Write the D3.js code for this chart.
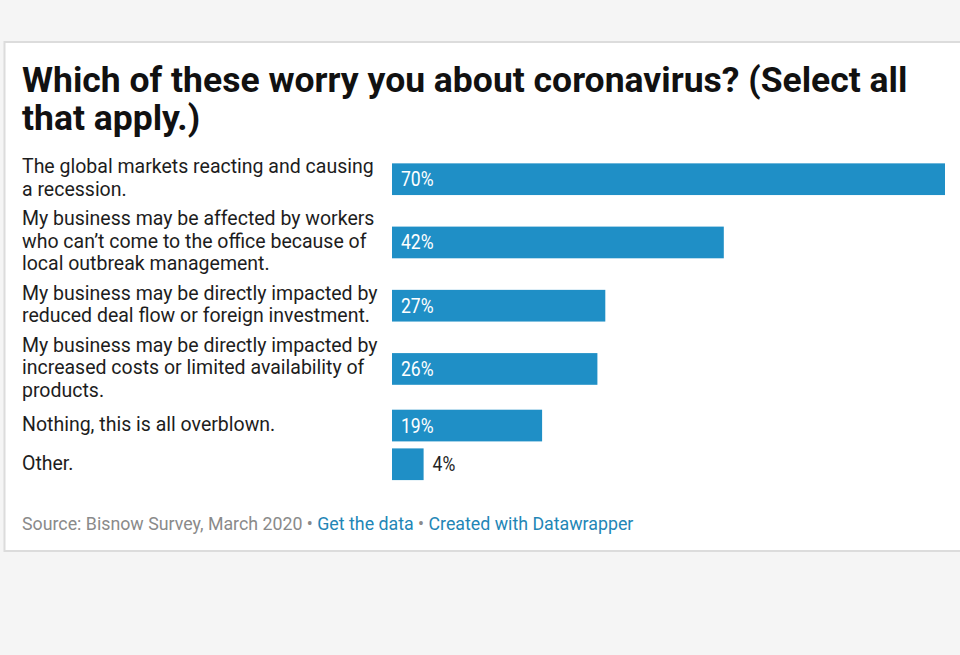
<!DOCTYPE html>
<html>
<head>
<meta charset="utf-8">
<script src="https://cdn.jsdelivr.net/npm/d3@7"></script>
<style>
  html, body { margin: 0; padding: 0; background: #f5f5f5; }
  svg { display: block; font-family: Roboto, "Noto Sans", sans-serif; }
</style>
</head>
<body>
<svg id="chart" width="960" height="655"></svg>
<script>
// Survey answers, one entry per bar (label lines as they wrap in the chart)
const labels = [
    ["The global markets reacting and causing", "a recession."],
    ["My business may be affected by workers", "who can\u2019t come to the office because of", "local outbreak management."],
    ["My business may be directly impacted by", "reduced deal flow or foreign investment."],
    ["My business may be directly impacted by", "increased costs or limited availability of", "products."],
    ["Nothing, this is all overblown."],
    ["Other."]
];
const values = [70, 42, 27, 26, 19, 4];
const titleLines = ["Which of these worry you about coronavirus? (Select all", "that apply.)"];
const sourceText = "Source: Bisnow Survey, March 2020";
const linkTexts = ["Get the data", "Created with Datawrapper"];

const barColor = "#1f8fc6";
const lineH = 22.5;
const barH = 31.7;
const rowGap = 7;

const svg = d3.select("#chart");

// card
svg.append("rect")
    .attr("x", 4.5).attr("y", 42)
    .attr("width", 1000).attr("height", 509)
    .attr("fill", "#fff")
    .attr("stroke", "#dcdcdc")
    .attr("stroke-width", 2);

// sx: horizontal squeeze, the screenshot text is a little narrower than the font
function addText(x, y, str, size, weight, fill, sx) {
    return svg.append("text")
        .attr("transform", `translate(${x},${y}) scale(${sx},1)`)
        .style("font-size", size + "px")
        .style("font-weight", weight)
        .attr("fill", fill)
        .text(str);
}

// title
titleLines.forEach((t, i) => addText(22, 92 + i * 38, t, 35.5, 700, "#111", 1.0));

// row layout: each row is as tall as its label block or its bar
const rows = labels.map((l, i) => ({ lines: l, value: values[i], h: Math.max(l.length * lineH, barH) }));
let rowTop = 156.7;
rows.forEach(r => {
    r.center = rowTop + r.h / 2;
    rowTop += r.h + rowGap;
});

const y = d3.scaleOrdinal()
    .domain(d3.range(rows.length))
    .range(rows.map(r => r.center));

const x = d3.scaleLinear()
    .domain([0, d3.max(values)])
    .range([392, 945]);

// labels
rows.forEach((r, i) => {
    r.lines.forEach((line, j) => {
        const base = y(i) + (j - (r.lines.length - 1) / 2) * lineH + 5.5;
        addText(22, base, line, 20, 400, "#1d1d1d", 0.975);
    });
});

// bars
svg.append("g").selectAll("rect")
    .data(rows)
    .join("rect")
    .attr("x", x(0))
    .attr("y", (d, i) => y(i) - barH / 2)
    .attr("width", d => x(d.value) - x(0))
    .attr("height", barH)
    .attr("fill", barColor);

// value labels, inside the bar when it fits
rows.forEach((r, i) => {
    const w = x(r.value) - x(0);
    const inside = w > 45;
    addText(inside ? x(0) + 9 : x(r.value) + 9, y(i) + 7, r.value + "%", 19.5, 400, inside ? "#fff" : "#222", 0.9);
});

// footer
const foot = svg.append("text")
    .attr("transform", "translate(22,530)")
    .style("font-size", "17.8px");
foot.append("tspan").attr("fill", "#8a8a8a").text(sourceText + " \u2022 ");
foot.append("tspan").attr("fill", "#2386b6").text(linkTexts[0]);
foot.append("tspan").attr("fill", "#8a8a8a").text(" \u2022 ");
foot.append("tspan").attr("fill", "#2386b6").text(linkTexts[1]);
</script>
</body>
</html>
